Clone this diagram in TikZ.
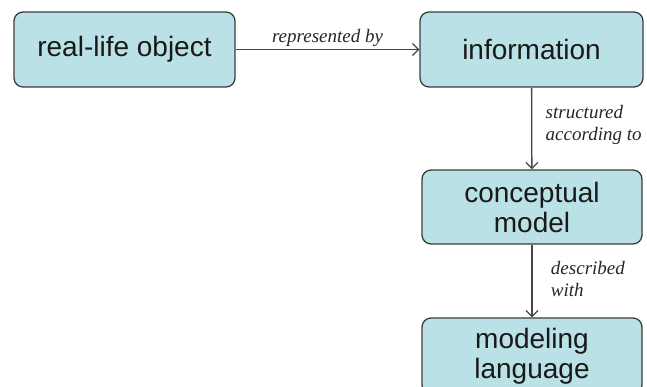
\documentclass[tikz,border=0pt]{standalone}
\usepackage{fontspec}
\setmainfont{Liberation Serif}
\setsansfont{Liberation Sans}
\usetikzlibrary{arrows.meta, positioning}
\definecolor{boxfill}{RGB}{186,225,229}
\definecolor{boxline}{RGB}{60,60,60}
\tikzset{%
	concept box/.style={
		draw=boxline,
		line width=1.3pt,
		fill=boxfill,
		rounded corners=9pt,
		align=center,
		inner sep=0pt,
		font=\sffamily\fontsize{28}{30}\selectfont,
		text=black!90
	},
	relation/.style={
		draw=black!72,
		line width=1.3pt,
		-{Straight Barb[length=6pt,width=12pt]}
	},
	relation label/.style={
		font=\itshape\fontsize{19}{22}\selectfont,
		text=black!85,
		align=left
	},
}
\begin{document}
\begin{tikzpicture}[x=1pt,y=1pt]
			% picture frame (lower box runs past the bottom edge)
			\clip (0,0) rectangle (647,-387);
			
			% Draw the boxes
			\node[concept box, minimum width=221pt, minimum height=75pt] (realobj) at (124.5,-49.5) {real-life object};
			\node[concept box, minimum width=223pt, minimum height=75pt] (info) at (531.5,-49.5) {information};
			\node[concept box, minimum width=220pt, minimum height=74pt] (concept) at (532,-207) {conceptual\\model};
			\node[concept box, minimum width=220pt, minimum height=76pt] (modlang) at (532,-356) {modeling\\language};
			
			% Draw the relations between boxes
			\draw[relation] (realobj) -- node[relation label, above=-1pt] (reprlbl) {represented by} (info);
			\draw[relation] (info) -- node[relation label, right=10pt, yshift=4pt] (structlbl) {structured\\according to} (concept);
			\draw[relation] (concept) -- node[relation label, right=15pt, yshift=2pt] (desclbl) {described\\with} (modlang);
			
		\end{tikzpicture}
\end{document}
